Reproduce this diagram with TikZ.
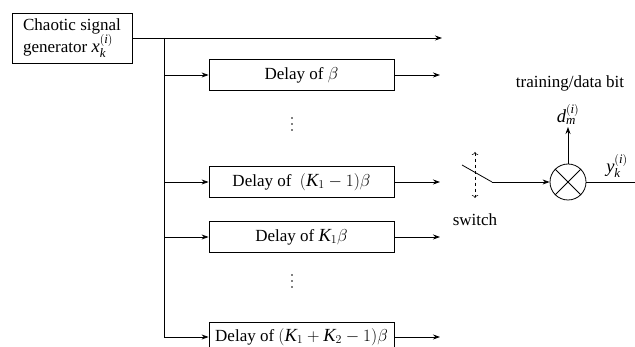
\documentclass[tikz,border=0pt]{standalone}
\usepackage{fontspec}
\setmainfont{Liberation Serif}
\usetikzlibrary{arrows.meta,calc}
\newcommand{\mi}[1]{\mathit{#1}}
\newcommand{\lgmath}[1]{{\fontsize{18.5}{21}\selectfont$#1$}}
\begin{document}
\begin{tikzpicture}[x=1pt,y=-1pt,
  font=\fontsize{17}{21}\selectfont,
  line width=0.8pt,
  >={Stealth[length=7pt,width=5pt]},
  delaybox/.style={draw, minimum width=185pt, minimum height=31pt, inner sep=0pt},
  genbox/.style={draw, minimum width=120pt, minimum height=50pt, align=left, inner sep=0pt},
  mulbox/.style={draw, circle, minimum size=36pt, inner sep=0pt},
  lbl/.style={inner sep=0.5pt},
  dotmark/.style={fill, circle, inner sep=0pt, minimum size=1.8pt},
  dasharr/.style={dashed, line width=0.6pt, {To[length=3pt]}-{To[length=3pt]}}]
\clip (0,0) rectangle (635,347);
% generator
\node[genbox] (gen) at (72,38) {Chaotic signal\\generator \lgmath{\mi{x}_{\mi{k}}^{(\mi{i})}}};
\coordinate (tend) at (442,38);
\coordinate (vtop) at (164,38);
\coordinate (vbot) at (164,337);
\draw[->] (gen.east) -- (tend);
\draw (vtop) -- (vbot);
% delay boxes
\node[delaybox] (b1) at (301.5,75) {Delay of \lgmath{\beta}};
\node[delaybox] (b2) at (301.5,182) {Delay of \ \lgmath{(\mi{K}_1-1)\beta}};
\node[delaybox] (b3) at (301.5,237) {Delay of \lgmath{\mi{K}_1\beta}};
\node[delaybox, minimum height=30pt] (b4) at (301.5,337) {Delay of \lgmath{(\mi{K}_1+\mi{K}_2-1)\beta}};
% vertical dots
\foreach \y [count=\n] in {118,124,130}{ \node[dotmark] (da\n) at (292,\y) {}; }
\foreach \y [count=\n] in {275,281,287}{ \node[dotmark] (db\n) at (292,\y) {}; }
\coordinate (o1) at (440,75);
\coordinate (o2) at (440,182);
\coordinate (o3) at (440,237);
\coordinate (o4) at (440,337);
\foreach \b/\o in {b1/o1,b2/o2,b3/o3,b4/o4}{
  \draw[->] (vtop |- \b.west) -- (\b.west);
  \draw[->] (\b.east) -- (\o);
}
% switch
\coordinate (sw1) at (462,165);
\coordinate (sw2) at (492,182);
\coordinate (su) at (475,152);
\coordinate (sd) at (475,198);
\draw (sw1) -- (sw2);
\draw[dasharr] (su) -- (sd);
\node[lbl] (swlab) at (475,220) {switch};
% multiplier
\node[mulbox] (mul) at (568,182) {};
\draw (mul.north west) -- (mul.south east);
\draw (mul.north east) -- (mul.south west);
\draw[->] (sw2) -- (mul.west);
\coordinate (dtip) at (568,127);
\draw[->] (mul.north) -- (dtip);
\node[lbl, anchor=south] (dlab) at (568,125) {\lgmath{\mi{d}_{\mi{m}}^{(\mi{i})}}};
\node[lbl, anchor=base] (train) at (570,88) {training/data bit};
\node[lbl] (ylab) at (617,166) {\lgmath{\mi{y}_{\mi{k}}^{(\mi{i})}}};
\coordinate (yend) at (640,182);
\draw (mul.east) -- (yend);
\end{tikzpicture}
\end{document}
